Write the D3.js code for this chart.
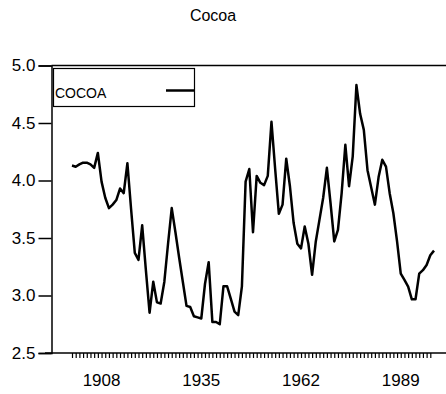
<!DOCTYPE html>
<html>
<head>
<meta charset="utf-8">
<script src="https://cdn.jsdelivr.net/npm/d3@7"></script>
<style>
  body { margin: 0; background: #fff; }
  text { font-family: "Liberation Sans", Arial, sans-serif; fill: #000; }
</style>
</head>
<body>
<div class="chart"></div>
<script>
// data, one value per year
var startYear = 1900;
var cocoa = [
  4.13, 4.12, 4.14, 4.155, 4.155, 4.14, 4.11, 4.24, 3.99, 3.85,
  3.76, 3.79, 3.83, 3.93, 3.89, 4.15, 3.75, 3.37, 3.31, 3.61,
  3.22, 2.85, 3.12, 2.94, 2.93, 3.12, 3.45, 3.76, 3.55, 3.33,
  3.12, 2.91, 2.90, 2.82, 2.81, 2.80, 3.10, 3.29, 2.77, 2.77,
  2.75, 3.08, 3.08, 2.97, 2.86, 2.83, 3.08, 3.99, 4.10, 3.55,
  4.04, 3.98, 3.96, 4.04, 4.51, 4.10, 3.71, 3.79, 4.19, 3.95,
  3.63, 3.45, 3.41, 3.60, 3.45, 3.18, 3.47, 3.66, 3.85, 4.11,
  3.80, 3.47, 3.57, 3.89, 4.31, 3.95, 4.21, 4.83, 4.58, 4.44,
  4.09, 3.94, 3.79, 4.03, 4.18, 4.12, 3.89, 3.715, 3.47, 3.19,
  3.135, 3.077, 2.967, 2.967, 3.19, 3.22, 3.265, 3.35, 3.39
];
var years = cocoa.map(function (d, i) { return startYear + i; });
var yTicks = [2.5, 3.0, 3.5, 4.0, 4.5, 5.0];
var xLabels = [1908, 1935, 1962, 1989];
var seriesName = "COCOA";
var title = "Cocoa";

var svgWidth = 446;
var svgHeight = 394;

var svg = d3.select(".chart")
  .append("svg")
  .attr("width", svgWidth)
  .attr("height", svgHeight);

// scales
var x = d3.scaleLinear()
  .domain([1900, 1998])
  .range([72, 434]);

var y = d3.scaleLinear()
  .domain([2.5, 5.0])
  .range([353, 65.5]);

// title
svg.append("text")
  .attr("x", 213)
  .attr("y", 21)
  .attr("text-anchor", "middle")
  .attr("font-size", 16)
  .text(title);

// frame top and y axis
svg.append("line")
  .attr("x1", 51.5).attr("x2", 446)
  .attr("y1", y(5.0)).attr("y2", y(5.0))
  .attr("stroke", "#000")
  .attr("stroke-width", 1.5);

var leftAxis = d3.axisLeft(y)
  .tickValues(yTicks)
  .tickFormat(d3.format(".1f"))
  .tickSize(13)
  .tickPadding(3);

var yAxis = svg.append("g")
  .attr("transform", "translate(51.5,0)")
  .call(leftAxis);

yAxis.select(".domain").attr("stroke-width", 1.5);
yAxis.selectAll("line").attr("stroke-width", 1.5);
yAxis.selectAll("text")
  .attr("font-size", 17)
  .attr("font-family", "Liberation Sans, Arial, sans-serif");

// x axis: one small tick each year
var xTickYears = d3.range(1900, 1998);
var bottomAxis = d3.axisBottom(x)
  .tickValues(xTickYears)
  .tickSize(5)
  .tickFormat("");

var xAxis = svg.append("g")
  .attr("transform", `translate(0, ${y(2.5)})`)
  .call(bottomAxis);

xAxis.select(".domain").remove();
xAxis.selectAll("line").attr("stroke-width", 1.2);

svg.append("line")
  .attr("x1", 45).attr("x2", 446)
  .attr("y1", y(2.5)).attr("y2", y(2.5))
  .attr("stroke", "#000")
  .attr("stroke-width", 1.5);

svg.selectAll(".xlabel")
  .data(xLabels)
  .enter()
  .append("text")
  .attr("class", "xlabel")
  .attr("x", d => x(d))
  .attr("y", 386)
  .attr("text-anchor", "middle")
  .attr("font-size", 17)
  .text(d => d);

// the series
var line = d3.line()
  .x((d, i) => x(years[i]))
  .y(d => y(d));

svg.append("path")
  .datum(cocoa)
  .attr("d", line)
  .attr("fill", "none")
  .attr("stroke", "#000")
  .attr("stroke-width", 2.5)
  .attr("stroke-linejoin", "round");

// legend
var legend = svg.append("g");

legend.append("rect")
  .attr("x", 53.5)
  .attr("y", 68.5)
  .attr("width", 141)
  .attr("height", 38)
  .attr("fill", "#fff")
  .attr("stroke", "#000")
  .attr("stroke-width", 1.2);

legend.append("text")
  .attr("x", 55)
  .attr("y", 97.5)
  .attr("font-size", 14)
  .text(seriesName);

legend.append("line")
  .attr("x1", 166).attr("x2", 194)
  .attr("y1", 90.5).attr("y2", 90.5)
  .attr("stroke", "#000")
  .attr("stroke-width", 2.5);
</script>
</body>
</html>
